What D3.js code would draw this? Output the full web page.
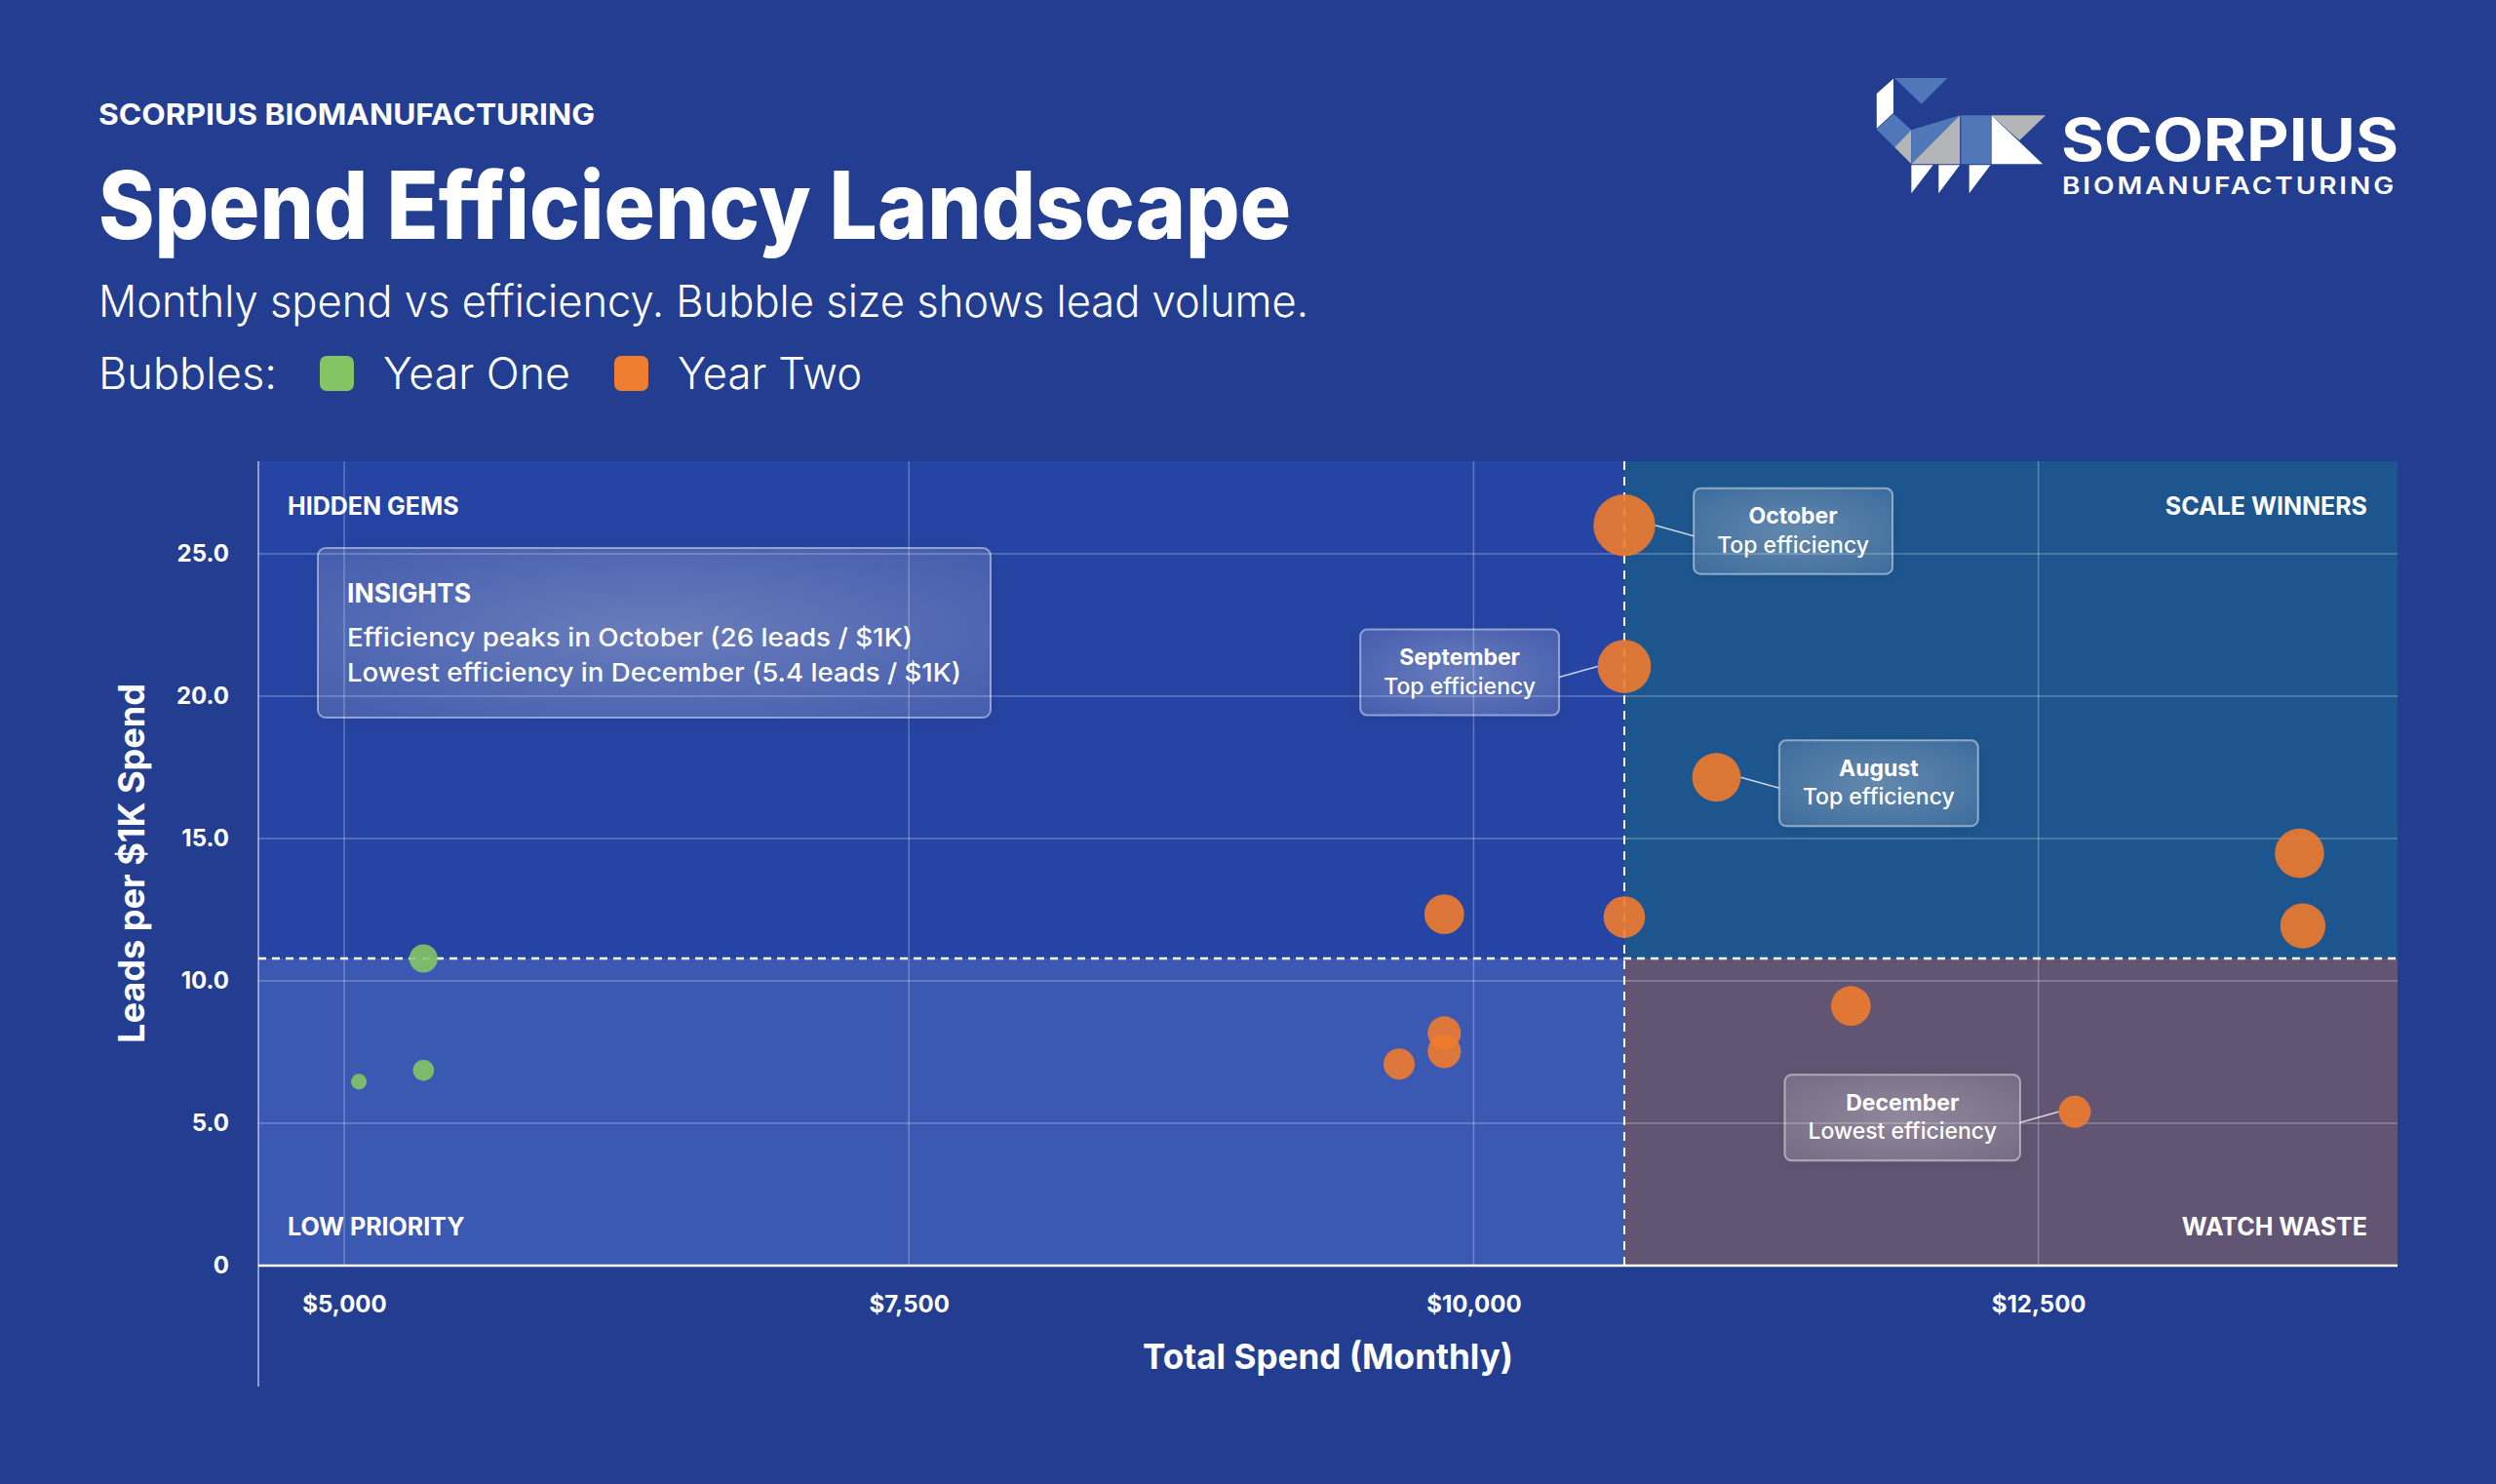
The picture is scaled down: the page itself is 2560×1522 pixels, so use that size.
<!DOCTYPE html>
<html><head><meta charset="utf-8">
<script src="https://cdn.jsdelivr.net/npm/d3@7"></script>
<style>
html,body{margin:0;padding:0;background:#233e91;}
svg{display:block;font-family:Inter,"Noto Sans",sans-serif;}
</style></head><body>
<svg id="chart" width="2560" height="1522"></svg>
<script>
// ---------------- DATA ----------------
const months     = ["October","November","December","January","February","March","April","May","June","July","August","September","October","November","December"];
const series     = ["Year One","Year One","Year One","Year Two","Year Two","Year Two","Year Two","Year Two","Year Two","Year Two","Year Two","Year Two","Year Two","Year Two","Year Two"];
const spend      = [5065, 5351, 5351, 9670, 9870, 9870, 9870, 11670, 10667, 13671, 11075, 10667, 10667, 13656, 12661];
const efficiency = [6.46, 6.86, 10.79, 7.08, 7.52, 8.17, 12.34, 9.12, 12.24, 11.93, 17.15, 21.04, 26.0, 14.48, 5.4];
const leads      = [18, 32, 58, 71, 80, 80, 115, 114, 125, 148, 171, 207, 277, 176, 75];
const seriesNames = ["Year One","Year Two"];
const xTicks = [5000, 7500, 10000, 12500];
const yTicks = [0, 5, 10, 15, 20, 25];
const quadrantNames = ["HIDDEN GEMS","SCALE WINNERS","LOW PRIORITY","WATCH WASTE"];
const annoMonths = ["October","September","August","December"];
const annoNotes  = ["Top efficiency","Top efficiency","Top efficiency","Lowest efficiency"];
const insightTitle = "INSIGHTS";
const insightLines = ["Efficiency peaks in October (26 leads / $1K)","Lowest efficiency in December (5.4 leads / $1K)"];
const brandText = "SCORPIUS BIOMANUFACTURING";
const titleText = "Spend Efficiency Landscape";
const subtitleText = "Monthly spend vs efficiency. Bubble size shows lead volume.";
const xTitle = "Total Spend (Monthly)";
const yTitle = "Leads per $1K Spend";

// ---------------- LAYOUT / STYLE ----------------
const M = {left:265, top:473, right:2459, bottom:1298};
const seriesColor = {"Year One":"#86c566","Year Two":"#ef7b2e"};
const swatchColor = {"Year One":"#84c462","Year Two":"#ee7d2f"};
const annoSide = [1,-1,1,-1];
const svg = d3.select("#chart");
const defs = svg.append("defs");

const grad = defs.append("radialGradient").attr("id","glass").attr("cx","50%").attr("cy","50%").attr("r","65%");
grad.append("stop").attr("offset","0%").attr("stop-color","#fff").attr("stop-opacity",0.28);
grad.append("stop").attr("offset","100%").attr("stop-color","#fff").attr("stop-opacity",0.13);
const sh = defs.append("filter").attr("id","shadow").attr("x","-20%").attr("y","-30%").attr("width","140%").attr("height","160%");
sh.append("feDropShadow").attr("dx",0).attr("dy",3).attr("stdDeviation",7).attr("flood-color","#0b1640").attr("flood-opacity",0.35);

const data = months.map((m,i)=>({month:m, series:series[i], spend:spend[i], eff:efficiency[i], leads:leads[i]}));

const x = d3.scaleLinear().domain([4620,14090]).range([M.left,M.right]);
const y = d3.scaleLinear().domain([0,28.25]).range([M.bottom,M.top]);
const r = d3.scaleSqrt().domain([0,d3.max(leads)]).range([0,31.7]);
const xMid = d3.median(spend), yMid = d3.median(efficiency);

// ---------------- HEADER ----------------
svg.append("text").attr("x",101).attr("y",128).attr("fill","#fff").attr("font-size",30).attr("font-weight",700)
  .attr("textLength",509).attr("lengthAdjust","spacingAndGlyphs").text(brandText);
svg.append("text").attr("x",101).attr("y",245).attr("fill","#fff").attr("font-size",96).attr("font-weight",800)
  .attr("textLength",1223).attr("lengthAdjust","spacingAndGlyphs").text(titleText);
svg.append("text").attr("x",101).attr("y",325).attr("fill","#fff").attr("font-size",45).attr("font-weight",300)
  .attr("textLength",1241).attr("lengthAdjust","spacingAndGlyphs").text(subtitleText);

const lg = svg.append("g");
lg.append("text").attr("x",101).attr("y",399).attr("fill","#fff").attr("font-size",45).attr("font-weight",300)
  .attr("textLength",183).attr("lengthAdjust","spacingAndGlyphs").text("Bubbles:");
const legX = [328, 630], legW=[192,189];
seriesNames.forEach((s,i)=>{
  lg.append("rect").attr("x",legX[i]).attr("y",365).attr("width",35).attr("height",36).attr("rx",7).attr("fill",swatchColor[s]);
  lg.append("text").attr("x",legX[i]+65).attr("y",399).attr("fill","#fff").attr("font-size",45).attr("font-weight",300)
    .attr("textLength",legW[i]).attr("lengthAdjust","spacingAndGlyphs").text(s);
});

// logo
const logo = svg.append("g");
const B="#5078b9", G="#b3b5b6", Wt="#ffffff";
const shapes = [
 [Wt,[[1924.8,96],[1942,80.7],[1942,115.7],[1924.8,131.7]]],
 [B,[[1943.1,80],[1997.5,80],[1970.7,106.7]]],
 [B,[[1924.8,132.7],[1942,116.7],[1960.4,133.3],[1943.1,151]]],
 [G,[[1943.1,151],[1960.4,133.3],[1960.4,168.3]]],
 [B,[[1960.4,133.3],[2010.1,118.3],[1960.4,168.3]]],
 [G,[[2010.1,118.3],[2010.1,168.3],[1960.4,168.3]]],
 [B,[[2011.3,118.3],[2041.9,118.3],[2041.9,168.3],[2011.3,168.3]]],
 [Wt,[[2042.6,118.3],[2095.1,168.3],[2042.6,168.3]]],
 [G,[[2042.6,118.3],[2098.1,118.3],[2071.3,143.9]]],
 [Wt,[[1960.4,169.3],[1982.6,169.3],[1960.4,198.3]]],
 [Wt,[[1988.3,169.3],[2010.1,169.3],[1988.3,198.3]]],
 [Wt,[[2019.7,169.3],[2041.5,169.3],[2019.7,198.3]]]
];
shapes.forEach(([c,p])=>logo.append("polygon").attr("points",p.map(q=>q.join(",")).join(" ")).attr("fill",c));
logo.append("text").attr("x",2114).attr("y",165).attr("fill","#fff").attr("font-size",61).attr("font-weight",700)
  .attr("textLength",346).attr("lengthAdjust","spacingAndGlyphs").text("SCORPIUS");
logo.append("text").attr("x",2115).attr("y",199).attr("fill","#fff").attr("font-size",24).attr("font-weight",600)
  .attr("letter-spacing",2.5).attr("textLength",343).attr("lengthAdjust","spacingAndGlyphs").text("BIOMANUFACTURING");

// ---------------- QUADRANTS ----------------
const xm = x(xMid), ym = y(yMid);
const quads = [
  {x0:M.left,x1:xm,y0:M.top,y1:ym,fill:"#2644a3"},
  {x0:xm,x1:M.right,y0:M.top,y1:ym,fill:"#1d568f"},
  {x0:M.left,x1:xm,y0:ym,y1:M.bottom,fill:"#3b58b2"},
  {x0:xm,x1:M.right,y0:ym,y1:M.bottom,fill:"#625573"}
];
svg.append("g").selectAll("rect").data(quads).join("rect")
  .attr("x",d=>d.x0).attr("y",d=>d.y0).attr("width",d=>d.x1-d.x0).attr("height",d=>d.y1-d.y0).attr("fill",d=>d.fill);

// grid
const grid = svg.append("g").attr("stroke","rgba(255,255,255,0.28)").attr("stroke-width",1.5);
grid.selectAll(".gx").data(xTicks).join("line").attr("x1",d=>x(d)).attr("x2",d=>x(d)).attr("y1",M.top).attr("y2",M.bottom);
grid.selectAll(".gy").data(yTicks.filter(d=>d>0)).join("line").attr("y1",d=>y(d)).attr("y2",d=>y(d)).attr("x1",M.left).attr("x2",M.right);

// quadrant labels
const ql = svg.append("g").attr("fill","#fff").attr("font-size",25).attr("font-weight",700);
const qpos = [[M.left+30,M.top+55,"start"],[M.right-31,M.top+55,"end"],[M.left+30,M.bottom-31,"start"],[M.right-31,M.bottom-31,"end"]];
quadrantNames.forEach((n,i)=>ql.append("text").attr("x",qpos[i][0]).attr("y",qpos[i][1]).attr("text-anchor",qpos[i][2]).text(n));

// thresholds
svg.append("line").attr("x1",xm).attr("x2",xm).attr("y1",M.top).attr("y2",M.bottom)
  .attr("stroke","#fff").attr("stroke-width",2).attr("stroke-dasharray","9,7");
svg.append("line").attr("x1",M.left).attr("x2",M.right).attr("y1",ym).attr("y2",ym)
  .attr("stroke","#fff").attr("stroke-width",2.5).attr("stroke-dasharray","8,6");

// insights box
const ib = svg.append("g");
ib.append("rect").attr("x",326).attr("y",562).attr("width",690).attr("height",174).attr("rx",8)
  .attr("fill","url(#glass)").attr("stroke","rgba(255,255,255,0.45)").attr("stroke-width",2).attr("filter","url(#shadow)");
ib.append("text").attr("x",356).attr("y",618).attr("fill","#fff").attr("font-size",26.5).attr("font-weight",700).text(insightTitle);
insightLines.forEach((t,i)=>ib.append("text").attr("x",356).attr("y",663+i*36).attr("fill","#fff").attr("font-size",26).attr("font-weight",500)
  .attr("textLength",i===0?580:630).attr("lengthAdjust","spacingAndGlyphs").text(t));

// ---------------- BUBBLES ----------------
svg.append("g").selectAll("circle").data(data).join("circle")
  .attr("cx",d=>x(d.spend)).attr("cy",d=>y(d.eff)).attr("r",d=>r(d.leads))
  .attr("fill",d=>seriesColor[d.series]).attr("fill-opacity",0.9);

// ---------------- ANNOTATIONS ----------------
const ag = svg.append("g");
annoMonths.forEach((m,i)=>{
  const d = data.find(p=>p.month===m && p.series==="Year Two");
  const cx=x(d.spend), cy=y(d.eff), rr=r(d.leads), side=annoSide[i];
  const g = ag.append("g");
  const t1 = g.append("text").attr("fill","#fff").attr("font-size",23).attr("font-weight",700).attr("text-anchor","middle").text(m);
  const t2 = g.append("text").attr("fill","#fff").attr("font-size",23).attr("font-weight",500).attr("text-anchor","middle").text(annoNotes[i]);
  const w = Math.max(t1.node().getComputedTextLength(), t2.node().getComputedTextLength()) + 48;
  const h = 88, top = cy - 38;
  const bx = side>0 ? cx + rr + 39.5 : cx - rr - 39.5 - w;
  g.insert("rect","text").attr("x",bx).attr("y",top).attr("width",w).attr("height",h).attr("rx",7)
    .attr("fill","url(#glass)").attr("stroke","rgba(255,255,255,0.45)").attr("stroke-width",2).attr("filter","url(#shadow)");
  t1.attr("x",bx+w/2).attr("y",top+36.5);
  t2.attr("x",bx+w/2).attr("y",top+66);
  const ex = side>0 ? bx : bx+w;
  g.insert("line","rect").attr("x1",cx+side*rr).attr("y1",cy).attr("x2",ex).attr("y2",cy+11)
    .attr("stroke","rgba(255,255,255,0.75)").attr("stroke-width",1.6);
});

// ---------------- AXES ----------------
const xa = svg.append("g").attr("transform",`translate(0,${M.bottom})`)
  .call(d3.axisBottom(x).tickValues(xTicks).tickSize(0).tickPadding(31).tickFormat(d3.format("$,")));
xa.select(".domain").remove();
xa.selectAll("text").attr("fill","#fff").attr("font-size",24).attr("font-weight",700).attr("font-family","Inter");
const ya = svg.append("g").attr("transform",`translate(${M.left},0)`)
  .call(d3.axisLeft(y).tickValues(yTicks).tickSize(0).tickPadding(30).tickFormat(d=>d===0?"0":d3.format(".1f")(d)));
ya.select(".domain").remove();
ya.selectAll("text").attr("fill","#fff").attr("font-size",24).attr("font-weight",700).attr("font-family","Inter");

svg.append("line").attr("x1",M.left).attr("x2",M.left).attr("y1",M.top).attr("y2",1422).attr("stroke","rgba(255,255,255,0.75)").attr("stroke-width",1.3);
svg.append("line").attr("x1",M.left).attr("x2",M.right).attr("y1",M.bottom).attr("y2",M.bottom).attr("stroke","#fff").attr("stroke-width",2.5);

svg.append("text").attr("x",(M.left+M.right)/2).attr("y",1404).attr("text-anchor","middle").attr("fill","#fff")
  .attr("font-size",36).attr("font-weight",700).attr("textLength",380).attr("lengthAdjust","spacingAndGlyphs").text(xTitle);
svg.append("text").attr("transform",`translate(148,${(M.top+M.bottom)/2}) rotate(-90)`).attr("text-anchor","middle").attr("fill","#fff")
  .attr("font-size",37).attr("font-weight",700).attr("textLength",369).attr("lengthAdjust","spacingAndGlyphs").text(yTitle);
</script>
</body></html>
